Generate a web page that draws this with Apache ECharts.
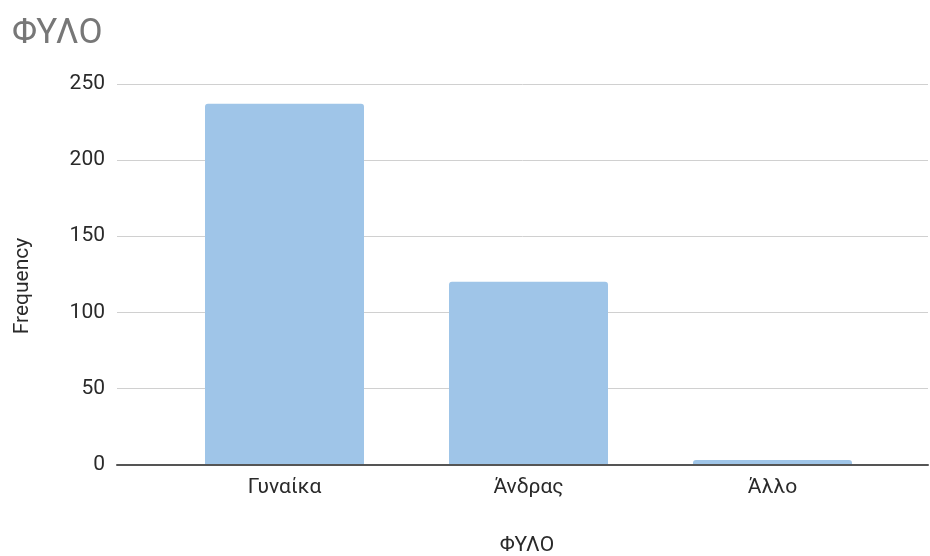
<!DOCTYPE html>
<html>
<head>
<meta charset="utf-8">
<script src="https://cdn.jsdelivr.net/npm/echarts@6/dist/echarts.min.js"></script>
<style>
  html, body { margin: 0; padding: 0; background: #ffffff; }
  #chart { width: 930px; height: 556px; }
</style>
</head>
<body>
<div id="chart"></div>
<script>
// Gender distribution of respondents
const chartTitle = 'ΦΥΛΟ';
const xAxisTitle = 'ΦΥΛΟ';
const yAxisTitle = 'Frequency';
const categories = ['Γυναίκα', 'Άνδρας', 'Άλλο'];
const frequencies = [237, 120, 3];
const yTicks = [0, 50, 100, 150, 200, 250];

const FONT = 'Roboto, "Noto Sans", sans-serif';
const TEXT_SIZE = 21;
const yMin = yTicks[0];
const yMax = yTicks[yTicks.length - 1];
const yStep = yTicks[1] - yTicks[0];

const chart = echarts.init(document.getElementById('chart'), null, { renderer: 'canvas' });

chart.setOption({
  backgroundColor: '#ffffff',
  animation: false,
  textStyle: { fontFamily: FONT },
  title: {
    text: chartTitle,
    left: 7,
    top: 12,
    textStyle: { fontFamily: FONT, fontSize: 35, fontWeight: 'normal', color: '#777777' }
  },
  grid: [
    // full-width grid carrying the gridlines and the baseline
    { left: 117, right: 2, top: 84, height: 380.5 },
    // inner grid holding the category bands
    { left: 162.5, width: 732, top: 84, height: 380.5 }
  ],
  xAxis: [
    {
      gridIndex: 0,
      type: 'value',
      min: 0,
      max: 1,
      axisLabel: { show: false },
      axisTick: { show: false },
      splitLine: { show: false },
      axisLine: { show: true, lineStyle: { color: '#555555', width: 2 } },
      z: 5
    },
    {
      gridIndex: 1,
      type: 'category',
      data: categories,
      axisLine: { show: false },
      axisTick: { show: false },
      axisLabel: { fontFamily: FONT, fontSize: TEXT_SIZE, color: '#2a2a2a', margin: 13 }
    }
  ],
  yAxis: [
    {
      gridIndex: 0,
      type: 'value',
      min: yMin,
      max: yMax,
      interval: yStep,
      axisLine: { show: false },
      axisTick: { show: false },
      axisLabel: { fontFamily: FONT, fontSize: TEXT_SIZE, color: '#2a2a2a', margin: 12 },
      splitLine: { lineStyle: { color: '#d0d0d0', width: 1 } }
    },
    {
      gridIndex: 1,
      type: 'value',
      min: yMin,
      max: yMax,
      interval: yStep,
      show: false
    }
  ],
  series: [
    {
      type: 'bar',
      xAxisIndex: 1,
      yAxisIndex: 1,
      data: frequencies,
      barWidth: 159,
      itemStyle: { color: '#9fc5e8', borderRadius: [3, 3, 0, 0] }
    }
  ],
  graphic: [
    {
      type: 'text',
      x: 23,
      y: 286,
      rotation: Math.PI / 2,
      style: {
        text: yAxisTitle,
        fontFamily: FONT,
        fontSize: TEXT_SIZE,
        fill: '#2a2a2a',
        align: 'center',
        verticalAlign: 'middle'
      }
    },
    {
      type: 'text',
      x: 527,
      y: 546,
      style: {
        text: xAxisTitle,
        fontFamily: FONT,
        fontSize: TEXT_SIZE,
        fill: '#2a2a2a',
        align: 'center',
        verticalAlign: 'middle'
      }
    }
  ]
});
</script>
</body>
</html>
